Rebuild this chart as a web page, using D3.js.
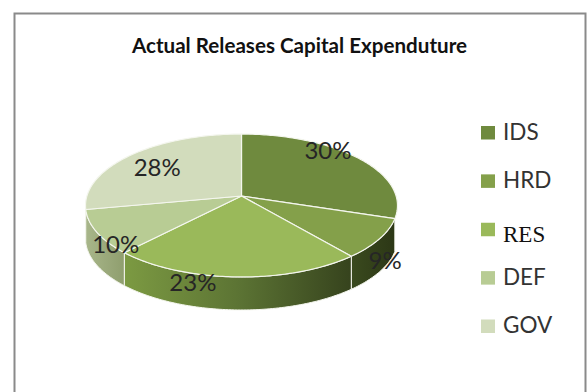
<!DOCTYPE html>
<html>
<head>
<meta charset="utf-8">
<script src="https://cdn.jsdelivr.net/npm/d3@7"></script>
<style>
  html, body { margin: 0; padding: 0; background: #fff; }
  svg { display: block; }
</style>
</head>
<body>
<script>
const categories = ["IDS", "HRD", "RES", "DEF", "GOV"];
const shares = [30, 9, 23, 10, 28];
const topColors = ["#6f8a3e", "#84a04a", "#9ab95a", "#b8cc94", "#d2dcbc"];
const legendFonts = ["Lato", "Lato", "Liberation Serif", "Lato", "Lato"];
const legendSizes = [22.5, 22.5, 23, 22.5, 22.5];
const legendBaselines = [7, 7.5, 12.5, 7.5, 7];
// Horizontal shading of the rim for each visible wedge
const rimStops = {
  HRD: ["#3a4a1e", "#2c3716"],
  RES: ["#7c9a42", "#5c7434", "#36431d"],
  DEF: ["#a8b68a", "#8f9e6e"]
};
// Label offsets from the wedge's rim midpoint
const labelNudges = [[-29.5, 1.5], [5.5, 30.5], [-43, 14], [19, 21], [25.5, 21]];

const width = 587, height = 392;
const cx = 241.5, cy = 196;      // apex of the pie on screen
const A = 154.6, B = 70.2;       // horizontal and vertical plane radii
const k = 0.133;                 // perspective foreshortening
const depth = 33;

// Projects a polar position on the tilted disc to the screen.
function project(angle, r = 1) {
  const u = r * Math.sin(angle), v = r * Math.cos(angle), w = 1 + k * v;
  return [cx + A * u / w, cy - B * v / w];
}
function arcPoints(a0, a1, dy = 0) {
  const n = Math.max(2, Math.ceil((a1 - a0) * 60));
  return d3.range(n + 1).map(i => {
    const p = project(a0 + (a1 - a0) * i / n);
    return [p[0], p[1] + dy];
  });
}

const line = d3.line();
const pie = d3.pie().value(d => d).sort(null);
const arcs = pie(shares);

const svg = d3.select("body").append("svg")
  .attr("width", width).attr("height", height);

// Frame, open along the bottom of the page
svg.append("path")
  .attr("d", "M14.5,392V13.5H585.5V392")
  .attr("fill", "none").attr("stroke", "#8a8a8a").attr("stroke-width", 2);

svg.append("text")
  .attr("x", 299.5).attr("y", 53)
  .attr("text-anchor", "middle")
  .attr("font-family", "Lato").attr("font-weight", 700)
  .attr("font-size", 20.6).attr("fill", "#111")
  .text("Actual Releases Capital Expenduture");

const defs = svg.append("defs");
const frontWall = 0.5 * Math.PI;  // walls are only visible below the widest point

// Rim walls drawn back to front, then the top faces
const walls = svg.append("g");
arcs.forEach((d, i) => {
  const stops = rimStops[categories[i]];
  if (!stops) return;
  const a0 = Math.max(d.startAngle, frontWall);
  const a1 = Math.min(d.endAngle, 2 * Math.PI - frontWall + 0.15);
  const upper = arcPoints(a0, a1);
  const lower = arcPoints(a0, a1, depth).reverse();
  const xs = upper.map(p => p[0]);
  const id = "rim-" + categories[i];
  const grad = defs.append("linearGradient").attr("id", id)
    .attr("gradientUnits", "userSpaceOnUse")
    .attr("x1", d3.min(xs)).attr("x2", d3.max(xs)).attr("y1", 0).attr("y2", 0);
  stops.forEach((c, j) => grad.append("stop")
    .attr("offset", j / (stops.length - 1)).attr("stop-color", c));
  walls.append("path")
    .attr("d", line(upper.concat(lower)) + "Z")
    .attr("fill", `url(#${id})`)
    .attr("stroke", "#f4f6ee").attr("stroke-width", 1);
});

svg.append("g").selectAll("path").data(arcs).join("path")
  .attr("d", d => line([[cx, cy], ...arcPoints(d.startAngle, d.endAngle)]) + "Z")
  .attr("fill", (d, i) => topColors[i])
  .attr("stroke", "#f4f6ee").attr("stroke-width", 1.2)
  .attr("stroke-linejoin", "round");

svg.append("g").selectAll("text").data(arcs).join("text")
  .attr("x", (d, i) => project((d.startAngle + d.endAngle) / 2)[0] + labelNudges[i][0])
  .attr("y", (d, i) => project((d.startAngle + d.endAngle) / 2)[1] + labelNudges[i][1])
  .attr("text-anchor", "middle")
  .attr("font-family", "Lato").attr("font-size", 24).attr("fill", "#262626")
  .text(d => d.data + "%");

const legendY = d3.scalePoint().domain(categories).range([132.5, 326]);
const legend = svg.append("g").selectAll("g").data(categories).join("g")
  .attr("transform", d => `translate(481,${legendY(d)})`);
legend.append("rect")
  .attr("x", 0).attr("y", -6.5).attr("width", 14).attr("height", 13.5)
  .attr("fill", (d, i) => topColors[i]);
legend.append("text")
  .attr("x", 22).attr("y", (d, i) => legendBaselines[i])
  .attr("font-family", (d, i) => legendFonts[i])
  .attr("font-size", (d, i) => legendSizes[i])
  .attr("fill", (d, i) => legendFonts[i] === "Lato" ? "#333" : "#111")
  .text(d => d);
</script>
</body>
</html>
